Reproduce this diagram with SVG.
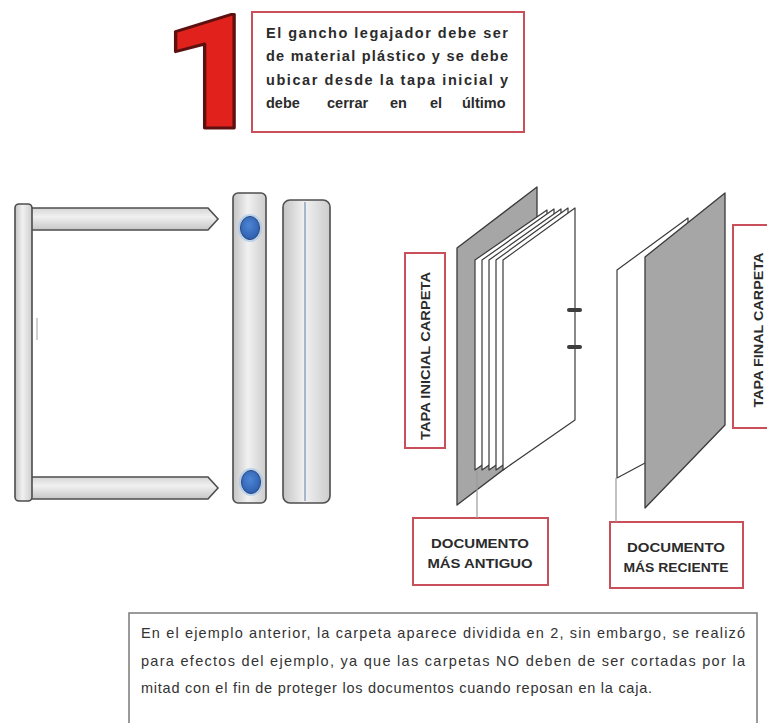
<svg xmlns="http://www.w3.org/2000/svg" width="767" height="723" viewBox="0 0 767 723">
  <defs>
    <linearGradient id="barH" x1="0" y1="0" x2="1" y2="0">
      <stop offset="0" stop-color="#c4c4c4"/>
      <stop offset="0.45" stop-color="#f1f1f1"/>
      <stop offset="1" stop-color="#cdcdcd"/>
    </linearGradient>
    <linearGradient id="barV" x1="0" y1="0" x2="0" y2="1">
      <stop offset="0" stop-color="#d6d6d6"/>
      <stop offset="0.4" stop-color="#f0f0f0"/>
      <stop offset="1" stop-color="#c6c6c6"/>
    </linearGradient>
    <radialGradient id="dot" cx="0.45" cy="0.4" r="0.6">
      <stop offset="0" stop-color="#4d86d6"/>
      <stop offset="1" stop-color="#2f5fae"/>
    </radialGradient>
  </defs>
  <style>
    .metal { stroke: #4d4d4d; stroke-width: 1.6; }
    .redbox { fill: #ffffff; stroke: #c9505a; stroke-width: 2; }
    .note { fill: #ffffff; stroke: #7a7a7a; stroke-width: 1.5; }
    .cover { fill: #a6a6a6; stroke: #3a3a3a; stroke-width: 1.3; stroke-linejoin: round; }
    .sheet { fill: #ffffff; stroke: #3a3a3a; stroke-width: 1.2; stroke-linejoin: round; }
    .lead { stroke: #9a9a9a; stroke-width: 1.2; fill: none; }
    .hb { font-family: "Liberation Sans", Arial, sans-serif; font-weight: bold; fill: #2b2b2b; }
    .body { font-family: "Liberation Sans", Arial, sans-serif; font-size: 14.5px; fill: #333333; }
    .big { font-family: Roboto, "Open Sans", sans-serif; font-weight: 900; font-size: 160px; fill: #e0211c; stroke: #5c1010; stroke-width: 3; stroke-linejoin: round; }
  </style>

  <rect width="767" height="723" fill="#ffffff"/>

  <!-- heading: big number and rule text -->
  <g id="numero">
    <text class="big" x="0" y="0" transform="translate(161 128) scale(1.12 1)">1</text>
  </g>
  <g id="regla">
    <rect class="redbox" x="252" y="12" width="272" height="120"/>
    <text class="hb" font-size="14.5" x="266" y="38" textLength="242" lengthAdjust="spacing">El gancho legajador debe ser</text>
    <text class="hb" font-size="14.5" x="266" y="61" textLength="242" lengthAdjust="spacing">de material plástico y se debe</text>
    <text class="hb" font-size="14.5" x="266" y="85" textLength="242" lengthAdjust="spacing">ubicar desde la tapa inicial y</text>
    <text class="hb" font-size="14.5" x="266" y="108">debe</text>
    <text class="hb" font-size="14.5" x="327" y="108">cerrar</text>
    <text class="hb" font-size="14.5" x="390" y="108">en</text>
    <text class="hb" font-size="14.5" x="430" y="108">el</text>
    <text class="hb" font-size="14.5" x="462" y="108">último</text>
  </g>

  <!-- fastener: prongs with spine -->
  <g id="gancho">
    <path class="metal" d="M30,208 L208,208 L218,219 L208,230 L30,230 Z" fill="url(#barV)"/>
    <path class="metal" d="M30,477 L208,477 L218,488 L208,499 L30,499 Z" fill="url(#barV)"/>
    <rect class="metal" x="15" y="204" width="17" height="297" rx="4" fill="url(#barH)"/>
    <line x1="37" y1="318" x2="37" y2="340" stroke="#a0a0a0" stroke-width="1"/>
  </g>

  <!-- fastener: lock bar with two holes -->
  <g id="barra">
    <rect class="metal" x="233" y="193" width="33" height="310" rx="5" fill="url(#barH)"/>
    <ellipse cx="250" cy="228" rx="12" ry="14" fill="#9fc3ee" opacity="0.6"/>
    <ellipse cx="250" cy="228" rx="9.5" ry="11.5" fill="url(#dot)" stroke="#27477d" stroke-width="1"/>
    <ellipse cx="251" cy="482" rx="12" ry="14" fill="#9fc3ee" opacity="0.6"/>
    <ellipse cx="251" cy="482" rx="9.5" ry="11.5" fill="url(#dot)" stroke="#27477d" stroke-width="1"/>
  </g>

  <!-- fastener: slide cover -->
  <g id="cubierta">
    <rect class="metal" x="283" y="200" width="47" height="303" rx="7" fill="url(#barH)"/>
    <line x1="305" y1="202" x2="305" y2="501" stroke="#8ea4c2" stroke-width="1.5"/>
  </g>

  <!-- first half of the folder: front cover and sheets -->
  <g id="carpeta-inicial">
    <polygon class="cover" points="457,248 537,187 537,444 457,505"/>
    <polygon class="sheet" points="475,260 547,210 547,420 475,470"/>
    <polygon class="sheet" points="482,260 554,209 554,420 482,470"/>
    <polygon class="sheet" points="489,260 561,209 561,420 489,470"/>
    <polygon class="sheet" points="496,260 568,208 568,420 496,470"/>
    <polygon class="sheet" points="503,260 575,208 575,420 503,470"/>
    <rect x="567" y="308" width="15" height="4" rx="2" fill="#3d3d3d"/>
    <rect x="567" y="345" width="15" height="4" rx="2" fill="#3d3d3d"/>
  </g>

  <!-- second half of the folder: last sheet and back cover -->
  <g id="carpeta-final">
    <polygon class="sheet" points="617,270 688,218 688,440 617,478"/>
    <polygon class="cover" points="645,257 725,193 725,425 645,508"/>
  </g>

  <!-- labels -->
  <g id="tapa-inicial">
    <rect class="redbox" x="405" y="253" width="40" height="195"/>
    <text class="hb" font-size="13" transform="translate(430 356) rotate(-90)" text-anchor="middle" textLength="168" lengthAdjust="spacingAndGlyphs">TAPA INICIAL CARPETA</text>
  </g>
  <g id="tapa-final">
    <rect class="redbox" x="733" y="225" width="44" height="203"/>
    <text class="hb" font-size="13" transform="translate(763 330) rotate(-90)" text-anchor="middle" textLength="155" lengthAdjust="spacingAndGlyphs">TAPA FINAL CARPETA</text>
  </g>
  <g id="doc-antiguo">
    <rect class="redbox" x="413" y="518" width="135" height="67"/>
    <text class="hb" font-size="12.5" x="480" y="548" text-anchor="middle" textLength="98" lengthAdjust="spacingAndGlyphs">DOCUMENTO</text>
    <text class="hb" font-size="12.5" x="480" y="568" text-anchor="middle" textLength="105" lengthAdjust="spacingAndGlyphs">MÁS ANTIGUO</text>
  </g>
  <g id="doc-reciente">
    <rect class="redbox" x="610" y="522" width="133" height="66"/>
    <text class="hb" font-size="12.5" x="676" y="552" text-anchor="middle" textLength="98" lengthAdjust="spacingAndGlyphs">DOCUMENTO</text>
    <text class="hb" font-size="12.5" x="676" y="572" text-anchor="middle" textLength="105" lengthAdjust="spacingAndGlyphs">MÁS RECIENTE</text>
  </g>

  <!-- leader lines from sheets to labels -->
  <g id="conectores">
    <line class="lead" x1="477" y1="470" x2="477" y2="518"/>
    <line class="lead" x1="616" y1="478" x2="616" y2="522"/>
  </g>

  <!-- explanatory note -->
  <g id="nota">
    <rect class="note" x="129" y="613" width="628" height="120"/>
    <text class="body" x="141" y="638" textLength="604" lengthAdjust="spacing">En el ejemplo anterior, la carpeta aparece dividida en 2, sin embargo, se realizó</text>
    <text class="body" x="141" y="666" textLength="604" lengthAdjust="spacing">para efectos del ejemplo, ya que las carpetas NO deben de ser cortadas por la</text>
    <text class="body" x="141" y="693" textLength="511" lengthAdjust="spacing">mitad con el fin de proteger los documentos cuando reposan en la caja.</text>
  </g>
</svg>
